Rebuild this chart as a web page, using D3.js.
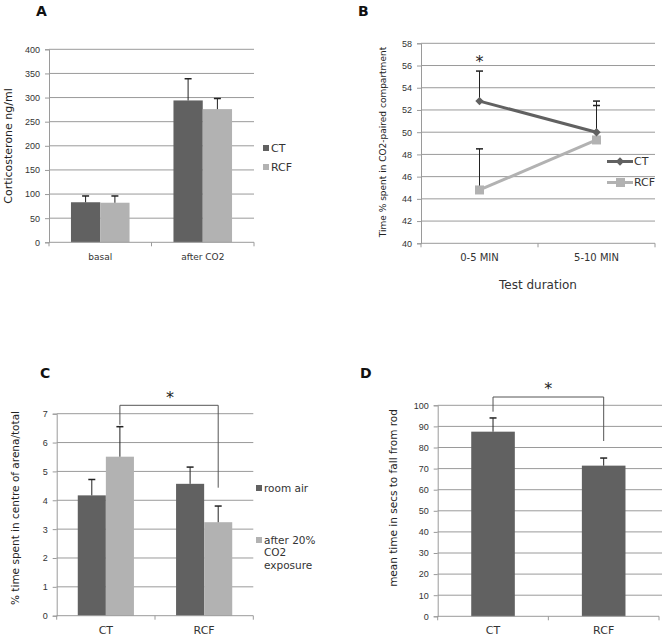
<!DOCTYPE html>
<html>
<head>
<meta charset="utf-8">
<script src="https://cdn.jsdelivr.net/npm/d3@7"></script>
<style>
  body { margin: 0; background: #fff; }
  svg { font-family: "DejaVu Sans", Verdana, sans-serif; }
  .tick text { fill: #333; font-size: 9px; }
  .panelLabel { font-weight: bold; font-size: 14px; fill: #111; }
</style>
</head>
<body>
<svg id="fig" width="662" height="642"></svg>
<script>
// Panel A: corticosterone
var aGroups = ["basal", "after CO2"];
var aSeries = ["CT", "RCF"];
var aCT = [83, 294];
var aCTerr = [96, 339];
var aRCF = [82, 276];
var aRCFerr = [96, 298];
var aTicks = [0, 50, 100, 150, 200, 250, 300, 350, 400];

// Panel B: time in CO2 paired compartment
var bTimes = ["0-5 MIN", "5-10 MIN"];
var bCT = [52.8, 50.0];
var bCTerr = [55.5, 52.8];
var bRCF = [44.8, 49.3];
var bRCFerr = [48.5, 52.4];
var bTicks = [40, 42, 44, 46, 48, 50, 52, 54, 56, 58];

// Panel C: time in centre of arena
var cGroups = ["CT", "RCF"];
var cRoomAir = [4.17, 4.57];
var cRoomAirErr = [4.72, 5.15];
var cAfter = [5.51, 3.24];
var cAfterErr = [6.55, 3.8];
var cTicks = [0, 1, 2, 3, 4, 5, 6, 7];

// Panel D: rotarod
var dGroups = ["CT", "RCF"];
var dMean = [87.5, 71.4];
var dErr = [94, 75];
var dTicks = [0, 10, 20, 30, 40, 50, 60, 70, 80, 90, 100];

var dark = "#616161";
var light = "#b2b2b2";
var gridCol = "#9a9a9a";

var svg = d3.select("#fig");

function yAxisGrid(g, y, ticks, x0, x1) {
  g.selectAll(".grid").data(ticks.slice(1)).enter().append("line")
    .attr("x1", x0).attr("x2", x1)
    .attr("y1", d => y(d)).attr("y2", d => y(d))
    .attr("stroke", gridCol).attr("stroke-width", 1);
  var ax = g.append("g")
    .attr("transform", `translate(${x0},0)`)
    .call(d3.axisLeft(y).tickValues(ticks).tickFormat(d3.format("d")).tickSize(4).tickPadding(5));
  ax.select(".domain").attr("stroke", gridCol);
  ax.selectAll(".tick line").attr("stroke", gridCol);
}

function xAxisBand(g, x, yPos, groups, fontSize) {
  g.append("line").attr("x1", x.range()[0]).attr("x2", x.range()[1])
    .attr("y1", yPos).attr("y2", yPos).attr("stroke", gridCol);
  // boundaries between categories
  var bounds = groups.map(c => x(c)).concat([x.range()[1]]);
  g.selectAll(".xt").data(bounds).enter().append("line")
    .attr("x1", d => d).attr("x2", d => d)
    .attr("y1", yPos).attr("y2", yPos + 4).attr("stroke", gridCol);
  g.selectAll(".xl").data(groups).enter().append("text")
    .attr("x", d => x(d) + x.bandwidth() / 2)
    .attr("y", yPos + 18)
    .attr("text-anchor", "middle")
    .attr("fill", "#333")
    .style("font-size", fontSize + "px")
    .text(d => d);
}

function errBar(g, cx, yTop, yBase) {
  g.append("line").attr("x1", cx).attr("x2", cx).attr("y1", yTop).attr("y2", yBase)
    .attr("stroke", "#222").attr("stroke-width", 1);
  g.append("line").attr("x1", cx - 3.5).attr("x2", cx + 3.5).attr("y1", yTop).attr("y2", yTop)
    .attr("stroke", "#222").attr("stroke-width", 1.5);
}

function yLabel(g, cx, cy, text, size) {
  g.append("text")
    .attr("transform", `translate(${cx},${cy}) rotate(-90)`)
    .attr("text-anchor", "middle")
    .attr("dy", "0.35em")
    .attr("fill", "#222")
    .style("font-size", size + "px")
    .text(text);
}

// ---------------- Panel A ----------------
(function () {
  var g = svg.append("g");
  var x = d3.scaleBand().domain(aGroups).range([49, 254]);
  var y = d3.scaleLinear().domain([0, 400]).range([242.3, 49.3]);
  yAxisGrid(g, y, aTicks, 49, 254);
  var sub = d3.scaleBand().domain(aSeries).range([0, x.bandwidth()]).paddingOuter(0.75).paddingInner(0);
  var vals = { CT: aCT, RCF: aRCF };
  var errs = { CT: aCTerr, RCF: aRCFerr };
  var cols = { CT: dark, RCF: light };
  aGroups.forEach(function (grp, i) {
    aSeries.forEach(function (s) {
      var bx = x(grp) + sub(s);
      g.append("rect").attr("x", bx).attr("width", sub.bandwidth())
        .attr("y", y(vals[s][i])).attr("height", y(0) - y(vals[s][i]))
        .attr("fill", cols[s]);
    });
  });
  aGroups.forEach(function (grp, i) {
    aSeries.forEach(function (s) {
      var cx = x(grp) + sub(s) + sub.bandwidth() / 2;
      errBar(g, cx, y(errs[s][i]), y(vals[s][i]));
    });
  });
  xAxisBand(g, x, y(0), aGroups, 9);
  // legend
  aSeries.forEach(function (s, i) {
    g.append("rect").attr("x", 263).attr("y", 145 + i * 19).attr("width", 6).attr("height", 6).attr("fill", cols[s]);
    g.append("text").attr("x", 271).attr("y", 148 + i * 19).attr("dy", "0.35em")
      .style("font-size", "11px").attr("fill", "#333").text(s);
  });
  yLabel(g, 8, 146, "Corticosterone ng/ml", 11);
  g.append("text").attr("class", "panelLabel").attr("x", 36).attr("y", 16).text("A");
})();

// ---------------- Panel B ----------------
(function () {
  var g = svg.append("g");
  var x = d3.scaleBand().domain(bTimes).range([421, 655]);
  var y = d3.scaleLinear().domain([40, 58]).range([243.3, 43.3]);
  yAxisGrid(g, y, bTicks, 421, 655);
  xAxisBand(g, x, y(40), bTimes, 10);
  var cx = d => x(d) + x.bandwidth() / 2;
  // error bars
  bTimes.forEach(function (t, i) {
    errBar(g, cx(t), y(bCTerr[i]), y(bCT[i]));
    errBar(g, cx(t), y(bRCFerr[i]), y(bRCF[i]));
  });
  var line = d3.line().x(d => cx(d.t)).y(d => y(d.v));
  var ctPts = bTimes.map((t, i) => ({ t: t, v: bCT[i] }));
  var rcfPts = bTimes.map((t, i) => ({ t: t, v: bRCF[i] }));
  g.append("path").datum(rcfPts).attr("d", line).attr("fill", "none").attr("stroke", light).attr("stroke-width", 3);
  g.append("path").datum(ctPts).attr("d", line).attr("fill", "none").attr("stroke", dark).attr("stroke-width", 3);
  g.selectAll(".sq").data(rcfPts).enter().append("rect")
    .attr("x", d => cx(d.t) - 4.5).attr("y", d => y(d.v) - 4.5)
    .attr("width", 9).attr("height", 9).attr("fill", light);
  var diamond = d3.symbol().type(d3.symbolDiamond2).size(45);
  g.selectAll(".dm").data(ctPts).enter().append("path")
    .attr("d", diamond)
    .attr("transform", d => `translate(${cx(d.t)},${y(d.v)})`)
    .attr("fill", dark);
  // legend
  g.append("line").attr("x1", 607).attr("x2", 633).attr("y1", 161.5).attr("y2", 161.5).attr("stroke", dark).attr("stroke-width", 3);
  g.append("path").attr("d", diamond).attr("transform", "translate(620,161.5)").attr("fill", dark);
  g.append("text").attr("x", 634).attr("y", 161.5).attr("dy", "0.35em").style("font-size", "11px").attr("fill", "#333").text("CT");
  g.append("line").attr("x1", 607).attr("x2", 633).attr("y1", 182.5).attr("y2", 182.5).attr("stroke", light).attr("stroke-width", 3);
  g.append("rect").attr("x", 616).attr("y", 178).attr("width", 9).attr("height", 9).attr("fill", light);
  g.append("text").attr("x", 634).attr("y", 182.5).attr("dy", "0.35em").style("font-size", "11px").attr("fill", "#333").text("RCF");
  // star
  g.append("text").attr("x", cx(bTimes[0])).attr("y", 67).attr("text-anchor", "middle")
    .style("font-size", "16px").attr("fill", "#222").text("*");
  yLabel(g, 383, 142, "Time % spent in CO2-paired  compartment", 9);
  g.append("text").attr("x", 538).attr("y", 289).attr("text-anchor", "middle")
    .style("font-size", "12px").attr("fill", "#333").text("Test duration");
  g.append("text").attr("class", "panelLabel").attr("x", 358).attr("y", 16).text("B");
})();

// ---------------- Panel C ----------------
(function () {
  var g = svg.append("g");
  var x = d3.scaleBand().domain(cGroups).range([56.7, 253.3]);
  var y = d3.scaleLinear().domain([0, 7]).range([615.7, 413.7]);
  yAxisGrid(g, y, cTicks, 56.7, 253.3);
  var sub = d3.scaleBand().domain(["room", "after"]).range([0, x.bandwidth()]).paddingOuter(0.75).paddingInner(0);
  var vals = { room: cRoomAir, after: cAfter };
  var errs = { room: cRoomAirErr, after: cAfterErr };
  var cols = { room: dark, after: light };
  cGroups.forEach(function (grp, i) {
    ["room", "after"].forEach(function (s) {
      g.append("rect").attr("x", x(grp) + sub(s)).attr("width", sub.bandwidth())
        .attr("y", y(vals[s][i])).attr("height", y(0) - y(vals[s][i]))
        .attr("fill", cols[s]);
    });
  });
  cGroups.forEach(function (grp, i) {
    ["room", "after"].forEach(function (s) {
      errBar(g, x(grp) + sub(s) + sub.bandwidth() / 2, y(errs[s][i]), y(vals[s][i]));
    });
  });
  xAxisBand(g, x, y(0), cGroups, 11);
  // significance bracket
  var lx = x(cGroups[0]) + sub("after") + sub.bandwidth() / 2;
  var rx = x(cGroups[1]) + sub("after") + sub.bandwidth() / 2;
  var by = 405.3;
  g.append("path")
    .attr("d", `M${lx},${y(cAfterErr[0]) - 2}V${by}H${rx}V${487.7}`)
    .attr("fill", "none").attr("stroke", "#555").attr("stroke-width", 1);
  g.append("text").attr("x", (lx + rx) / 2 + 1).attr("y", 403).attr("text-anchor", "middle")
    .style("font-size", "16px").attr("fill", "#222").text("*");
  // legend
  g.append("rect").attr("x", 256).attr("y", 485).attr("width", 6).attr("height", 6).attr("fill", dark);
  g.append("text").attr("x", 264).attr("y", 488).attr("dy", "0.35em").style("font-size", "10.5px").attr("fill", "#333").text("room air");
  g.append("rect").attr("x", 256).attr("y", 537).attr("width", 6).attr("height", 6).attr("fill", light);
  var lt = g.append("text").attr("y", 540).attr("dy", "0.35em").style("font-size", "10.5px").attr("fill", "#333");
  lt.append("tspan").attr("x", 264).text("after 20%");
  lt.append("tspan").attr("x", 264).attr("dy", "12.7").text("CO2");
  lt.append("tspan").attr("x", 264).attr("dy", "12.7").text("exposure");
  yLabel(g, 15, 508, "% time spent in centre of arena/total", 10.5);
  g.append("text").attr("class", "panelLabel").attr("x", 40).attr("y", 378).text("C");
})();

// ---------------- Panel D ----------------
(function () {
  var g = svg.append("g");
  var x = d3.scaleBand().domain(dGroups).range([437.7, 659]);
  var y = d3.scaleLinear().domain([0, 100]).range([616.3, 405.3]);
  yAxisGrid(g, y, dTicks, 437.7, 662);
  var bw = 43.6;
  g.selectAll(".bar").data(dGroups).enter().append("rect")
    .attr("x", d => x(d) + x.bandwidth() / 2 - bw / 2)
    .attr("width", bw)
    .attr("y", (d, i) => y(dMean[i]))
    .attr("height", (d, i) => y(0) - y(dMean[i]))
    .attr("fill", dark);
  dGroups.forEach(function (grp, i) {
    errBar(g, x(grp) + x.bandwidth() / 2, y(dErr[i]), y(dMean[i]));
  });
  xAxisBand(g, x, y(0), dGroups, 11);
  var lx = x(dGroups[0]) + x.bandwidth() / 2;
  var rx = x(dGroups[1]) + x.bandwidth() / 2;
  g.append("path")
    .attr("d", `M${lx},${411.7}V${397}H${rx}V${441}`)
    .attr("fill", "none").attr("stroke", "#555").attr("stroke-width", 1);
  g.append("text").attr("x", (lx + rx) / 2).attr("y", 394).attr("text-anchor", "middle")
    .style("font-size", "16px").attr("fill", "#222").text("*");
  yLabel(g, 393, 498, "mean time in secs to fall from rod", 10.5);
  g.append("text").attr("class", "panelLabel").attr("x", 360).attr("y", 378).text("D");
})();
</script>
</body>
</html>
